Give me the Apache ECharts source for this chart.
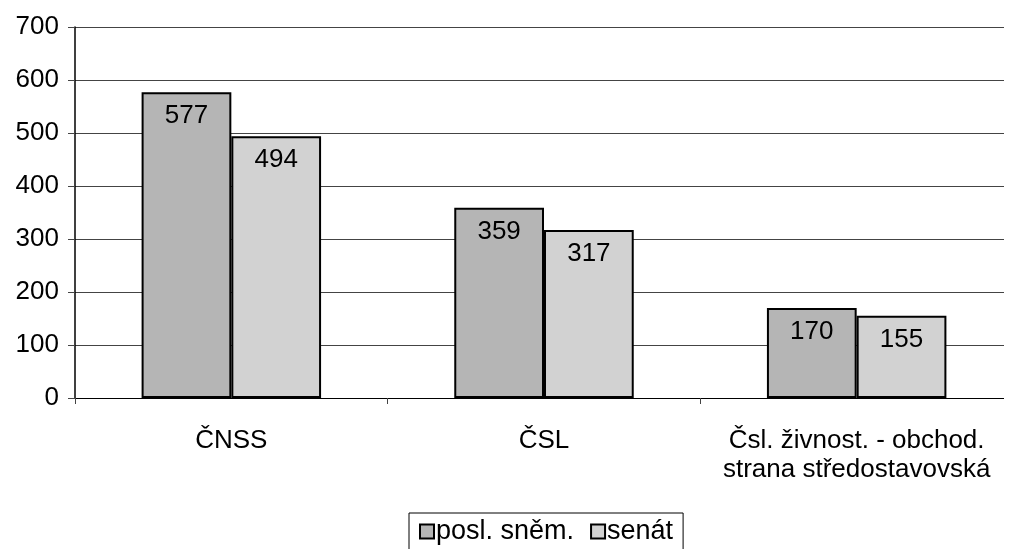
<!DOCTYPE html>
<html>
<head>
<meta charset="utf-8">
<script src="https://cdn.jsdelivr.net/npm/echarts@6/dist/echarts.min.js"></script>
<style>
html,body{margin:0;padding:0;background:#fff;}
#c{width:1013px;height:549px;}
</style>
</head>
<body>
<div id="c"></div>
<script>
var categories = ['ČNSS', 'ČSL', 'Čsl. živnost. - obchod.\nstrana středostavovská'];
var seriesNames = ['posl. sněm.', 'senát'];
var poslSnem = [577, 359, 170];
var senat = [494, 317, 155];
var yTicks = [0, 100, 200, 300, 400, 500, 600, 700];

var chart = echarts.init(document.getElementById('c'), null, {renderer: 'canvas'});
var font = 'Liberation Sans, Arial, sans-serif';
function labelCfg() {
  return {show: true, position: 'insideTop', distance: 11, fontSize: 26, fontFamily: font, color: '#000'};
}
chart.setOption({
  animation: false,
  backgroundColor: '#fff',
  grid: {left: 75, top: 27, width: 950, height: 371, containLabel: false},
  xAxis: {
    type: 'category',
    data: categories,
    axisLine: {lineStyle: {color: '#000', width: 1}},
    axisTick: {show: true, length: 6, lineStyle: {color: '#444'}, alignWithLabel: false},
    axisLabel: {interval: 0, fontSize: 26, fontFamily: font, color: '#000', margin: 28, lineHeight: 29}
  },
  yAxis: {
    type: 'value',
    min: yTicks[0], max: yTicks[yTicks.length - 1], interval: 100,
    axisLine: {show: true, lineStyle: {color: '#000', width: 1.5}},
    axisTick: {show: true, length: 7, lineStyle: {color: '#444'}},
    axisLabel: {fontSize: 26, fontFamily: font, color: '#000', margin: 16},
    splitLine: {show: true, lineStyle: {color: '#444', width: 1}}
  },
  legend: {
    data: seriesNames,
    left: 409, top: 513,
    orient: 'horizontal',
    itemWidth: 14, itemHeight: 14, itemGap: 16,
    icon: 'rect',
    padding: [5, 10, 8, 10],
    borderColor: '#000', borderWidth: 1,
    textStyle: {fontSize: 27, fontFamily: font, color: '#000', padding: [0, 0, 0, -3]}
  },
  series: [
    {
      name: seriesNames[0], type: 'bar', data: poslSnem,
      barGap: '0%', barCategoryGap: '42.6%',
      itemStyle: {color: '#b5b5b5', borderColor: '#000', borderWidth: 2},
      label: labelCfg()
    },
    {
      name: seriesNames[1], type: 'bar', data: senat,
      itemStyle: {color: '#d2d2d2', borderColor: '#000', borderWidth: 2},
      label: labelCfg()
    }
  ],
  graphic: [
    {type: 'rect', shape: {x: 1004, y: 0, width: 20, height: 420}, style: {fill: '#fff'}, z: 100}
  ]
});
</script>
</body>
</html>
